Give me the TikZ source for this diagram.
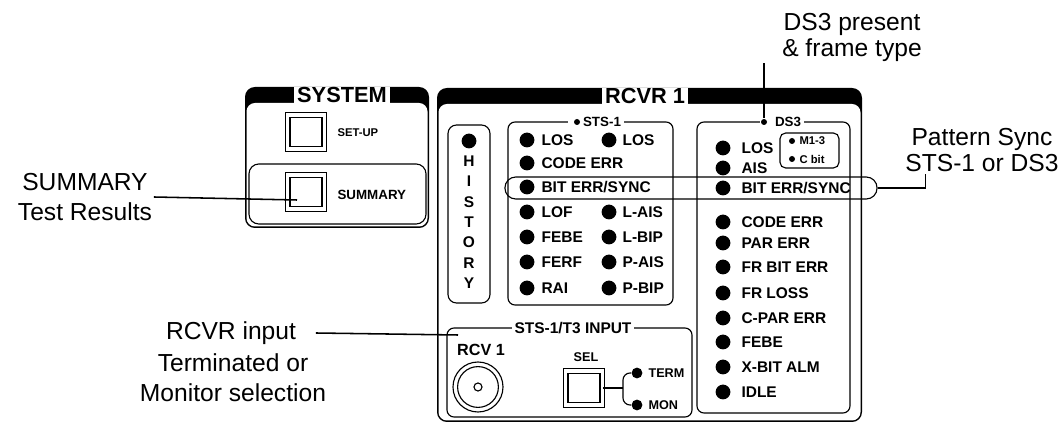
\documentclass[tikz,border=0pt]{standalone}
\usepackage{fontspec}
\setmainfont{Liberation Sans}
\usetikzlibrary{positioning}

\begin{document}
\begin{tikzpicture}[x=0.025cm, y=-0.025cm, line width=0.8pt,
	every node/.style={font=\small},
	led/.style={circle, fill, inner sep=0pt, minimum size=0.37cm},
	minled/.style={circle, fill, inner sep=0pt, minimum size=0.27cm},
	dot/.style={circle, fill, inner sep=0pt, minimum size=0.15cm},
	lab/.style={anchor=west, inner sep=0pt, font=\bfseries\fontsize{11}{12}\selectfont},
	head/.style={fill=white, inner xsep=2pt, inner ysep=0pt, minimum height=0.4cm, font=\bfseries\fontsize{15.5}{16}\selectfont},
	title/.style={fill=white, inner xsep=2pt, inner ysep=0pt, font=\bfseries\fontsize{9.5}{10}\selectfont},
	btn/.style={draw, double, double distance=2.6pt, inner sep=0pt, minimum width=0.92cm, minimum height=0.85cm},
	callout/.style={align=center, inner sep=1pt, font=\fontsize{17.5}{21.5}\selectfont}]
	\useasboundingbox (0,0) rectangle (1061,425);
	\fill[rounded corners=7pt] (245,87) rectangle (429,228);
	\fill[white, rounded corners=6pt] (246.5,103) rectangle (427.5,226.5);
	\node[head] (sysh) at (342,95) {SYSTEM};
	\node[btn] (setup) at (306,132) {};
	\node[lab, font=\bfseries\fontsize{8}{8}\selectfont] (setuplab) at (337,133) {SET-UP};
	\draw[rounded corners=7pt] (249,164) rectangle (426,224);
	\node[btn] (sumbtn) at (306,192) {};
	\node[lab, font=\bfseries\fontsize{9.5}{10}\selectfont] (sumlab) at (337,195) {SUMMARY};
	\fill[rounded corners=7pt] (437,88) rectangle (862,422);
	\fill[white, rounded corners=6pt] (438.5,104) rectangle (860.5,420.5);
	\node[head] (rcvrh) at (645,96) {RCVR 1};
	\draw[rounded corners=6pt] (448,125) rectangle (490,303);
	\node[led] (hled) at (469,141) {};
	\foreach \c [count=\i] in {H,I,S,T,O,R,Y}
		\node[font=\bfseries\fontsize{11}{11}\selectfont, inner sep=0pt] (h\i) at (469,141+\i*20.3) {\c};
	\draw[rounded corners=5pt] (508,122) rectangle (673,305);
	\node[title] (ststitle) at (596,122) {\hspace{0.3cm}STS-1};
	\node[dot] (stsdot) at (577,122) {};
	\foreach \y/\t [count=\i] in {140/LOS, 163/CODE ERR, 187/{BIT ERR/SYNC}, 212/LOF, 237/FEBE, 262/FERF, 288/RAI} {
		\node[led] (sl\i) at (527,\y) {};
		\node[lab] (st\i) at (541,\y) {\t};
	}
	\foreach \y/\t [count=\i] in {140/LOS, 212/L-AIS, 237/L-BIP, 262/P-AIS, 288/P-BIP} {
		\node[led] (sr\i) at (609,\y) {};
		\node[lab] (srt\i) at (622,\y) {\t};
	}
	\draw[rounded corners=5pt] (697,122) rectangle (850,413);
	\node[title] (ds3title) at (782,122) {\hspace{0.3cm}DS3};
	\node[dot] (ds3dot) at (764,122) {};
	\foreach \y/\t [count=\i] in {148/LOS, 168/AIS, 188/{BIT ERR/SYNC}, 222/CODE ERR, 243/PAR ERR, 267/FR BIT ERR, 293/FR LOSS, 318/C-PAR ERR, 342/FEBE, 367/X-BIT ALM, 392/IDLE} {
		\node[led] (dl\i) at (723,\y) {};
		\node[lab] (dt\i) at (741,\y) {\t};
	}
	\draw[rounded corners=4pt] (780,133) rectangle (839,168);
	\node[dot] (m13dot) at (792,141) {};
	\node[dot] (cbitdot) at (792,159) {};
	\node[lab, font=\bfseries\fontsize{8}{8}\selectfont] (m13) at (799,141) {M1-3};
	\node[lab, font=\bfseries\fontsize{8}{8}\selectfont] (cbit) at (799,159) {C bit};
	\node[draw, rounded corners=0.27cm, inner sep=0pt, minimum width=9.3cm, minimum height=0.55cm] (bitoval) at (691,188) {};
	\draw[rounded corners=5pt] (447,328) rectangle (692,417);
	\node[title, font=\bfseries\fontsize{11}{11}\selectfont] (intitle) at (573,328) {STS-1/T3 INPUT};
	\node[font=\bfseries\fontsize{11.5}{12}\selectfont, inner sep=0pt] (rcv) at (481,350) {RCV 1};
	\node[circle, draw, minimum size=1.25cm, inner sep=0pt] (jack) at (478,387) {};
	\node[circle, draw, minimum size=1.02cm, inner sep=0pt] (jackin) at (478,387) {};
	\node[circle, draw, minimum size=0.2cm, inner sep=0pt] (jackpin) at (478,387) {};
	\node[font=\bfseries\fontsize{9}{9}\selectfont, inner sep=0pt] (sel) at (586,357) {SEL};
	\node[btn] (selbtn) at (584,388) {};
	\coordinate (selfork) at (623,388);
	\node[minled] (termled) at (637,373) {};
	\node[minled] (monled) at (637,405) {};
	\node[lab, font=\bfseries\fontsize{9}{9}\selectfont] (term) at (648,373) {TERM};
	\node[lab, font=\bfseries\fontsize{9}{9}\selectfont] (mon) at (648,405) {MON};
	\draw (selbtn.east) -- (selfork);
	\draw[rounded corners=5pt] (termled) -| (selfork) |- (monled);
	\node[callout] (sumcall) at (85,197) {SUMMARY\\Test Results};
	\coordinate (sumtip) at (297,200);
	\draw[line width=1.1pt] (sumcall.east) -- (sumtip);
	\node[callout, font=\fontsize{17.5}{18.5}\selectfont] (ds3call) at (852,37) {DS3 present\\\& frame type};
	\draw[line width=1.1pt] (ds3dot |- ds3call.south) -- (ds3dot);
	\node[callout, font=\fontsize{17.5}{18.5}\selectfont] (patcall) at (982,150) {Pattern Sync\\STS-1 or DS3};
	\draw[line width=1.1pt] (bitoval.east) -| ([xshift=0.55cm]patcall.south west);
	\node[callout] (incall) at (231,333) {RCVR input};
	\node[callout] (incall2) at (233,378) {Terminated or\\Monitor selection};
	\coordinate (intip) at (458,335);
	\draw[line width=1.1pt] ([xshift=0.45cm]incall.east) -- (intip);
\end{tikzpicture}
\end{document}
